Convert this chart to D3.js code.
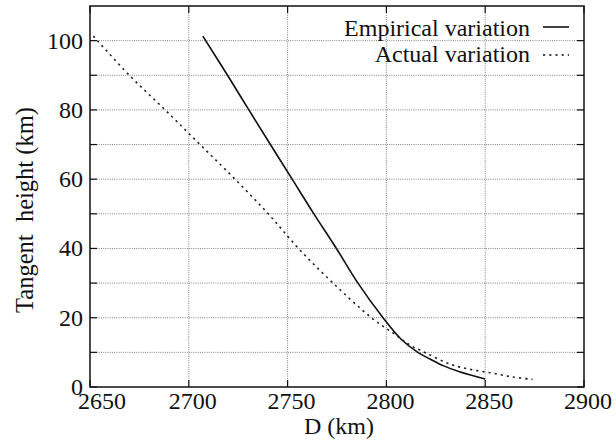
<!DOCTYPE html>
<html>
<head>
<meta charset="utf-8">
<script src="https://cdn.jsdelivr.net/npm/d3@7"></script>
</head>
<body style="margin:0; background:#fff">
<script>
// Tangent height vs D, empirical vs actual

const xTicks = [2650, 2700, 2750, 2800, 2850, 2900];
const yTicks = [0, 10, 20, 30, 40, 50, 60, 70, 80, 90, 100];
const yLabels = [0, 20, 40, 60, 80, 100];

// empirical variation (solid)
const empD = [2707.1, 2719.6, 2730.4, 2741.3, 2752.3, 2763.3, 2774.7, 2785.6, 2798.3, 2807.6, 2815.9, 2822, 2829, 2837, 2850];
const empH = [101.3, 90, 80, 70, 60, 50, 40, 30, 20, 13.7, 10, 8.1, 6.1, 4.4, 2.3];

// actual variation (dotted)
const actD = [2651.7, 2669.9, 2688, 2705.7, 2723.4, 2740.2, 2755.5, 2773, 2792.4, 2803.3, 2811.7, 2820.1, 2832.2, 2842.3, 2853.7, 2863.8, 2873.9];
const actH = [101.3, 90, 80, 70, 60, 50, 40, 30, 20, 15.6, 12.2, 9.8, 6.6, 5.1, 4.0, 2.9, 2.2];

const outerWidth = 616, outerHeight = 443;
const margin = {top: 6, right: 32, bottom: 56, left: 90};
const innerWidth = outerWidth - margin.left - margin.right;
const innerHeight = outerHeight - margin.top - margin.bottom;

const serif = '"Liberation Serif"';

const svg = d3.select("body").append("svg")
    .attr("width", outerWidth)
    .attr("height", outerHeight);

const g = svg.append("g")
    .attr("transform", `translate(${margin.left},${margin.top})`);

const x = d3.scaleLinear().domain([2650, 2900]).range([0, innerWidth]);
const y = d3.scaleLinear().domain([0, 110]).range([innerHeight, 0]);

// grid
g.append("g").selectAll("line")
    .data(yTicks.filter(d => d > 0))
    .join("line")
    .attr("x1", 0).attr("x2", innerWidth)
    .attr("y1", d => y(d)).attr("y2", d => y(d))
    .attr("stroke", "#777").attr("stroke-width", 0.9)
    .attr("stroke-dasharray", "1,1.2");

g.append("g").selectAll("line")
    .data(xTicks.slice(1, -1))
    .join("line")
    .attr("x1", d => x(d)).attr("x2", d => x(d))
    .attr("y1", 0).attr("y2", innerHeight)
    .attr("stroke", "#777").attr("stroke-width", 0.9)
    .attr("stroke-dasharray", "1,1.2");

// inward ticks on all sides
const tickLen = 7;
const tickG = g.append("g").attr("stroke", "#111").attr("stroke-width", 1.2);
yTicks.forEach(d => {
  tickG.append("line").attr("x1", 0).attr("x2", tickLen).attr("y1", y(d)).attr("y2", y(d));
  tickG.append("line").attr("x1", innerWidth - tickLen).attr("x2", innerWidth).attr("y1", y(d)).attr("y2", y(d));
});
xTicks.forEach(d => {
  tickG.append("line").attr("x1", x(d)).attr("x2", x(d)).attr("y1", innerHeight).attr("y2", innerHeight - tickLen);
  tickG.append("line").attr("x1", x(d)).attr("x2", x(d)).attr("y1", 0).attr("y2", tickLen);
});

// tick labels
g.append("g").selectAll("text")
    .data(yLabels)
    .join("text")
    .attr("x", -7)
    .attr("y", d => y(d))
    .attr("dy", "0.33em")
    .attr("fill", "#111")
    .style("font-family", serif)
    .style("text-anchor", "end")
    .style("font-size", "24px")
    .text(d => d);

g.append("g").selectAll("text")
    .data(xTicks)
    .join("text")
    .attr("x", (d, i) => x(d) + (i == 0 ? 12 : 4))
    .attr("y", innerHeight + 22)
    .attr("fill", "#111")
    .style("font-family", serif)
    .style("text-anchor", "middle")
    .style("font-size", "24px")
    .text(d => d);

// axis titles
g.append("text")
    .attr("x", innerWidth / 2 + 2)
    .attr("y", innerHeight + 47)
    .attr("fill", "#111")
    .style("font-family", serif)
    .style("text-anchor", "middle")
    .style("font-size", "24px")
    .text("D (km)");

g.append("text")
    .attr("transform", `translate(${33 - margin.left},${210 - margin.top}) rotate(-90)`)
    .attr("fill", "#111")
    .style("font-family", serif)
    .style("text-anchor", "middle")
    .style("font-size", "24.5px")
    .text("Tangent\u00a0\u00a0height (km)");

// curves
const line = d3.line()
    .x(d => x(d[0]))
    .y(d => y(d[1]))
    .curve(d3.curveCatmullRom.alpha(0.5));

g.append("path")
    .datum(empD.map((d, i) => [d, empH[i]]))
    .attr("d", line)
    .attr("fill", "none")
    .attr("stroke", "#111")
    .attr("stroke-width", 1.6);

g.append("path")
    .datum(actD.map((d, i) => [d, actH[i]]))
    .attr("d", line)
    .attr("fill", "none")
    .attr("stroke", "#222")
    .attr("stroke-width", 1.6)
    .attr("stroke-dasharray", "2.2,4");

// frame
g.append("rect")
    .attr("width", innerWidth).attr("height", innerHeight)
    .attr("fill", "none")
    .attr("stroke", "#111").attr("stroke-width", 1.5);

// legend
const legend = svg.append("g");
const legendItems = [
  {name: "Empirical variation", dash: null, ty: 35.5, ly: 27},
  {name: "Actual variation", dash: "2.2,4", ty: 61.5, ly: 55}
];
legendItems.forEach(it => {
  legend.append("text")
      .attr("x", 530).attr("y", it.ty)
      .attr("fill", "#111")
      .style("font-family", serif)
      .style("text-anchor", "end")
      .style("font-size", "24px")
      .text(it.name);
  legend.append("line")
      .attr("x1", 543).attr("x2", 569)
      .attr("y1", it.ly).attr("y2", it.ly)
      .attr("stroke", "#111").attr("stroke-width", 1.6)
      .attr("stroke-dasharray", it.dash);
});
</script>
</body>
</html>
